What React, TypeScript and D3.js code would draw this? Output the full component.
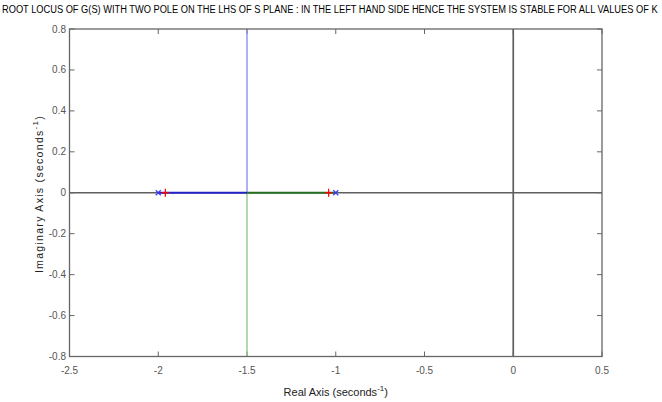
import React, { useLayoutEffect, useRef, useState } from "react";
import * as d3 from "d3";

const W = 662;
const H = 402;

const titleText =
  "ROOT LOCUS OF G(S) WITH TWO POLE ON THE LHS OF S PLANE : IN THE LEFT HAND SIDE HENCE THE SYSTEM IS STABLE FOR ALL VALUES OF K";

const xTicks = [-2.5, -2, -1.5, -1, -0.5, 0, 0.5];
const yTicks = [-0.8, -0.6, -0.4, -0.2, 0, 0.2, 0.4, 0.6, 0.8];

const openLoopPoles = [-2, -1];
const closedLoopPoles = [-1.96, -1.04];

// branch 1 (blue): real-axis part then upper vertical
const branch1RealRe = [-2, -1.5];
const branch1RealIm = [0, 0];
const branch1VertRe = [-1.5, -1.5];
const branch1VertIm = [0, 0.8];
// branch 2 (green)
const branch2RealRe = [-1, -1.5];
const branch2RealIm = [0, 0];
const branch2VertRe = [-1.5, -1.5];
const branch2VertIm = [0, -0.8];

const FONT = "'Liberation Sans Narrow', 'Liberation Sans', Arial, sans-serif";

export default function App() {
  const left = 69.5, right = 602, top = 29, bottom = 356.5;
  const x = d3.scaleLinear().domain([-2.5, 0.5]).range([left, right]);
  const y = d3.scaleLinear().domain([-0.8, 0.8]).range([bottom, top]);

  const titleRef = useRef<SVGTextElement>(null);
  const [sx, setSx] = useState(1);
  const titleWidth = 657;
  useLayoutEffect(() => {
    if (titleRef.current) {
      const w = titleRef.current.getComputedTextLength();
      if (w > 0) setSx(titleWidth / w);
    }
  }, []);

  const line = d3
    .line<[number, number]>()
    .x((d) => x(d[0]))
    .y((d) => y(d[1]));
  const zip = (re: number[], im: number[]) =>
    re.map((r, i) => [r, im[i]] as [number, number]);

  const fmt = (v: number) => String(Math.round(v * 10) / 10);
  const tickLen = 5;
  const axisColor = "#666";

  return (
    <svg width={W} height={H} style={{ display: "block", position: "absolute", left: 0, top: 0, background: "#fff" }}>
      <rect x={0} y={0} width={W} height={H} fill="#fff" />
      <g transform={`translate(2, 13) scale(${sx}, 1)`}>
        <text ref={titleRef} x={0} y={0} fontFamily={FONT} fontSize={11} fill="#000">
          {titleText}
        </text>
      </g>

      {/* zero lines */}
      <line x1={left} x2={right} y1={y(0)} y2={y(0)} stroke="#5f5f5f" strokeWidth={1.7} />
      <line x1={x(0)} x2={x(0)} y1={top} y2={bottom} stroke="#5f5f5f" strokeWidth={1.7} />

      {/* ticks */}
      {xTicks.map((t) => (
        <g key={"xt" + t}>
          <line x1={x(t)} x2={x(t)} y1={bottom} y2={bottom - tickLen} stroke={axisColor} strokeWidth={1} />
          <line x1={x(t)} x2={x(t)} y1={top} y2={top + tickLen} stroke={axisColor} strokeWidth={1} />
          <text x={x(t)} y={374} textAnchor="middle" fontFamily={FONT} fontSize={10} fill="#555">
            {fmt(t)}
          </text>
        </g>
      ))}
      {yTicks.map((t) => (
        <g key={"yt" + t}>
          <line x1={left} x2={left + tickLen} y1={y(t)} y2={y(t)} stroke={axisColor} strokeWidth={1} />
          <line x1={right} x2={right - tickLen} y1={y(t)} y2={y(t)} stroke={axisColor} strokeWidth={1} />
          <text x={66} y={y(t) + 3.5} textAnchor="end" fontFamily={FONT} fontSize={10} fill="#555">
            {fmt(t)}
          </text>
        </g>
      ))}

      {/* locus */}
      <path d={line(zip(branch1VertRe, branch1VertIm)) || ""} stroke="#8585f5" strokeWidth={1.3} fill="none" />
      <path d={line(zip(branch2VertRe, branch2VertIm)) || ""} stroke="#85c485" strokeWidth={1.3} fill="none" />
      <path d={line(zip(branch1RealRe, branch1RealIm)) || ""} stroke="#2323c6" strokeWidth={2} fill="none" />
      <path d={line(zip(branch2RealRe, branch2RealIm)) || ""} stroke="#237023" strokeWidth={2} fill="none" />

      {/* open loop poles */}
      {openLoopPoles.map((p) => (
        <g key={"ol" + p} stroke="#3a3aff" strokeWidth={1.3}>
          <line x1={x(p) - 2.5} x2={x(p) + 2.5} y1={y(0) - 2.5} y2={y(0) + 2.5} />
          <line x1={x(p) - 2.5} x2={x(p) + 2.5} y1={y(0) + 2.5} y2={y(0) - 2.5} />
        </g>
      ))}
      {/* closed loop poles */}
      {closedLoopPoles.map((p) => (
        <g key={"cl" + p} stroke="#ff0000" strokeWidth={1.2}>
          <line x1={x(p) - 4} x2={x(p) + 4} y1={y(0)} y2={y(0)} />
          <line x1={x(p)} x2={x(p)} y1={y(0) - 4} y2={y(0) + 4} />
        </g>
      ))}

      {/* box */}
      <rect x={left} y={top} width={right - left} height={bottom - top} fill="none" stroke={axisColor} strokeWidth={1.3} />

      {/* axis labels */}
      <text x={(left + right) / 2} y={396} textAnchor="middle" fontFamily={FONT} fontSize={11} fill="#222">
        Real Axis (seconds
        <tspan dy={-5} fontSize={8}>-1</tspan>
        <tspan dy={5}>)</tspan>
      </text>
      <text
        transform={`translate(42.5, 194) rotate(-90)`}
        textAnchor="middle"
        fontFamily="'Liberation Sans', Arial, sans-serif"
        fontSize={10.5}
        letterSpacing={1.3}
        fill="#222"
      >
        Imaginary Axis (seconds
        <tspan dy={-5} fontSize={8}>-1</tspan>
        <tspan dy={5}>)</tspan>
      </text>
    </svg>
  );
}
